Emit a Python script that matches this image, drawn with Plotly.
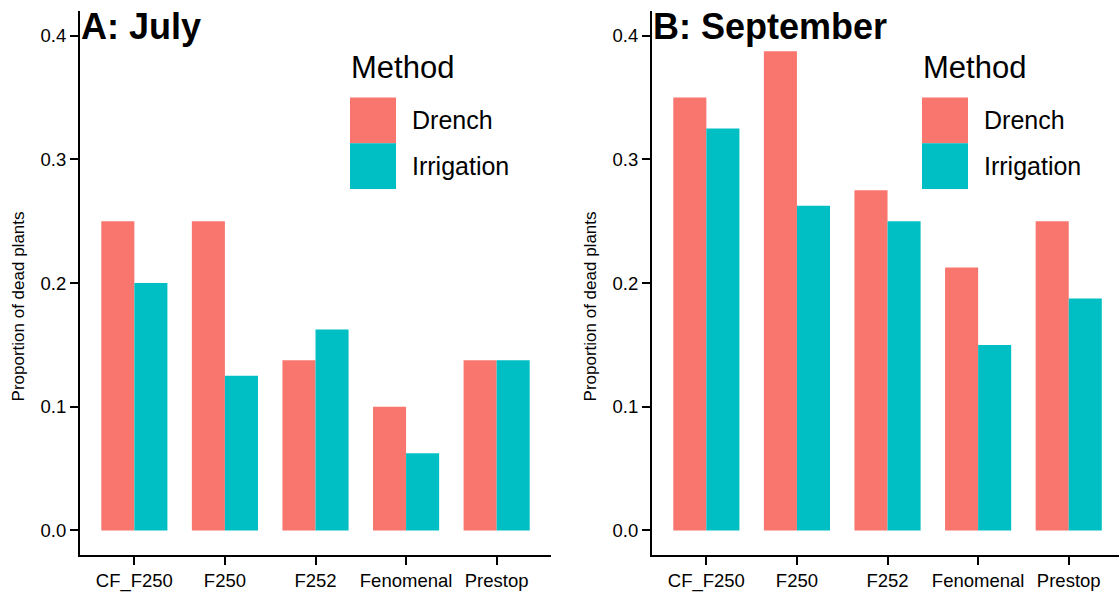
import plotly.graph_objects as go

# Data: proportion of dead plants per treatment and application method
treatments = ["CF_F250", "F250", "F252", "Fenomenal", "Prestop"]
methods = ["Drench", "Irrigation"]
colors = ["#F8766D", "#00BFC4"]

july_drench = [0.25, 0.25, 0.1375, 0.10, 0.1375]
july_irrigation = [0.20, 0.125, 0.1625, 0.0625, 0.1375]
sept_drench = [0.35, 0.3875, 0.275, 0.2125, 0.25]
sept_irrigation = [0.325, 0.2625, 0.25, 0.15, 0.1875]

panel_titles = ["A: July", "B: September"]
y_title = "Proportion of dead plants"
y_ticks = [0.0, 0.1, 0.2, 0.3, 0.4]

W, H = 1119, 592
FONT = "Liberation Sans, Arial, sans-serif"

fig = go.Figure()

panels = [
    (july_drench, july_irrigation, "x", "y"),
    (sept_drench, sept_irrigation, "x2", "y2"),
]
for drench, irrigation, xa, ya in panels:
    for name, vals, col in zip(methods, [drench, irrigation], colors):
        fig.add_trace(go.Bar(
            x=treatments, y=vals, name=name, xaxis=xa, yaxis=ya,
            marker=dict(color=col, line=dict(width=0)),
            showlegend=False, offsetgroup=name,
        ))

def px_x(p):
    return p / W

def px_y(p):
    return 1 - p / H

y_dom = [px_y(558), px_y(11)]
axis_common = dict(
    showline=True, linecolor="black", linewidth=2,
    ticks="outside", ticklen=8, tickwidth=2, tickcolor="black",
    showgrid=False, zeroline=False,
    tickfont=dict(family=FONT, size=18.5, color="black"),
)

fig.update_layout(
    width=W, height=H,
    margin=dict(l=0, r=0, t=0, b=0),
    paper_bgcolor="white", plot_bgcolor="white",
    barmode="group", bargap=0.27, bargroupgap=0,
    font=dict(family=FONT, color="black"),
    xaxis=dict(domain=[px_x(80), px_x(551)], range=[-0.6, 4.6],
               type="category", anchor="y", **axis_common),
    yaxis=dict(domain=y_dom, range=[-0.02, 0.42], anchor="x",
               tickvals=y_ticks, ticktext=[f"{v:.1f}" for v in y_ticks],
               **axis_common),
    xaxis2=dict(domain=[px_x(652), 1.0], range=[-0.6, 4.555],
                type="category", anchor="y2", **axis_common),
    yaxis2=dict(domain=y_dom, range=[-0.02, 0.42], anchor="x2",
                tickvals=y_ticks, ticktext=[f"{v:.1f}" for v in y_ticks],
                **axis_common),
)

annotations = []
shapes = []
for i, (left, title) in enumerate(zip([80, 652], panel_titles)):
    # panel title
    annotations.append(dict(
        x=px_x(left - 1), y=px_y(27), xref="paper", yref="paper",
        xanchor="left", yanchor="middle", showarrow=False,
        text=f"<b>{title}</b>", font=dict(family=FONT, size=36, color="black"),
    ))
    # y axis title
    annotations.append(dict(
        x=px_x(left - 62), y=px_y(308), xref="paper", yref="paper",
        xanchor="center", yanchor="middle", showarrow=False, textangle=-90,
        text=y_title, font=dict(family=FONT, size=17, color="black"),
    ))
    # legend
    key_left = left + 270
    annotations.append(dict(
        x=px_x(key_left - 1), y=px_y(68), xref="paper", yref="paper",
        xanchor="left", yanchor="middle", showarrow=False,
        text="Method", font=dict(family=FONT, size=31, color="black"),
    ))
    for j, (name, col) in enumerate(zip(methods, colors)):
        top = 98 + 46 * j
        shapes.append(dict(
            type="rect", xref="paper", yref="paper",
            x0=px_x(key_left), x1=px_x(key_left + 46),
            y0=px_y(top + 46), y1=px_y(top),
            fillcolor=col, line=dict(width=0),
        ))
        annotations.append(dict(
            x=px_x(key_left + 60), y=px_y(top + 23), xref="paper", yref="paper",
            xanchor="left", yanchor="middle", showarrow=False,
            text=name, font=dict(family=FONT, size=25, color="black"),
        ))

fig.update_layout(annotations=annotations, shapes=shapes)
fig.write_html("out.html")
